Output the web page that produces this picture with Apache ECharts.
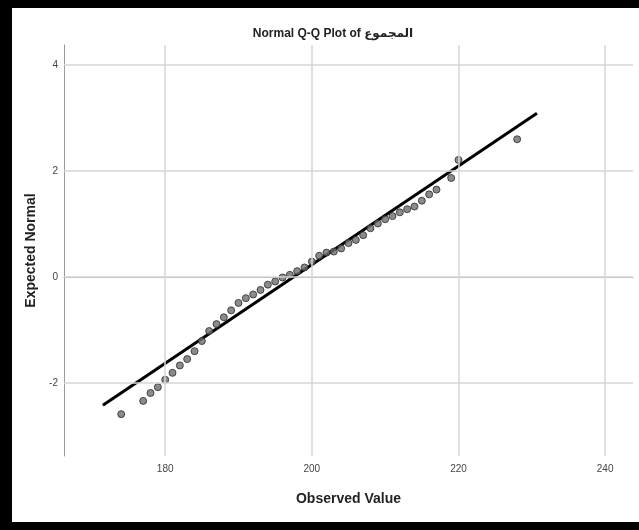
<!DOCTYPE html>
<html>
<head>
<meta charset="utf-8">
<script src="https://cdn.jsdelivr.net/npm/echarts@6/dist/echarts.min.js"></script>
<style>
html,body{margin:0;padding:0;background:#fff;}
#chart{width:639px;height:530px;}
</style>
</head>
<body>
<div id="chart"></div>
<script>
var observed = [174,177,178,179,180,181,182,183,184,185,186,187,188,189,190,191,192,193,194,195,196,197,198,199,200,201,202,203,204,205,206,207,208,209,210,211,212,213,214,215,216,217,219,220,228];
var expectedNormal = [-2.59,-2.34,-2.19,-2.08,-1.94,-1.81,-1.67,-1.55,-1.40,-1.21,-1.02,-0.89,-0.76,-0.63,-0.49,-0.40,-0.33,-0.245,-0.145,-0.085,-0.01,0.04,0.11,0.18,0.29,0.40,0.46,0.48,0.54,0.64,0.70,0.79,0.92,1.01,1.09,1.15,1.22,1.28,1.33,1.44,1.56,1.65,1.87,2.21,2.60];
// Reference normal line parameters
var refMean = 197.5;
var refSD = 10.74;
var refRange = [171.5, 230.7];
// Tick labels
var xTicks = [180, 200, 220, 240];
var yTicks = [-2, 0, 2, 4];
var titleText = 'Normal Q-Q Plot of المجموع';
var xName = 'Observed Value';
var yName = 'Expected Normal';

var pts = observed.map(function(v, i){ return [v, expectedNormal[i]]; });
var refLine = refRange.map(function(x){ return [x, (x - refMean) / refSD]; });

var font = '"Liberation Sans Narrow","Liberation Sans","DejaVu Sans",Arial,sans-serif';
var gridData = xTicks.map(function(v){ return {xAxis: v}; }).concat(yTicks.map(function(v){ return {yAxis: v}; }));

var chart = echarts.init(document.getElementById('chart'), null, {renderer: 'canvas'});
chart.setOption({
  animation: false,
  backgroundColor: '#fff',
  title: {
    text: titleText,
    left: 328, top: 23, textAlign: 'center',
    textStyle: {fontFamily: font, fontSize: 12, fontWeight: 'bold', color: '#222'}
  },
  grid: {left: 64, top: 45, right: 6, bottom: 74, containLabel: false},
  xAxis: {
    type: 'value', min: 166.2, max: 243.8,
    name: xName, nameLocation: 'middle', nameGap: 36,
    nameTextStyle: {fontFamily: font, fontSize: 14, fontWeight: 'bold', color: '#222'},
    axisLine: {show: true, lineStyle: {color: '#999', width: 1}},
    axisTick: {show: false},
    splitLine: {show: false},
    axisLabel: {customValues: xTicks, fontFamily: font, fontSize: 10, color: '#444', margin: 8}
  },
  yAxis: {
    type: 'value', min: -3.38, max: 4.38,
    name: yName, nameLocation: 'middle', nameGap: 22, nameRotate: 90,
    nameTextStyle: {fontFamily: font, fontSize: 14, fontWeight: 'bold', color: '#222'},
    axisLine: {show: true, lineStyle: {color: '#999', width: 1}},
    axisTick: {show: false},
    splitLine: {show: false},
    axisLabel: {customValues: yTicks, fontFamily: font, fontSize: 10, color: '#444', margin: 6}
  },
  graphic: [
    {type: 'rect', shape: {x: 0, y: 0, width: 639, height: 8}, style: {fill: '#000'}, z: 100},
    {type: 'rect', shape: {x: 0, y: 522, width: 639, height: 8}, style: {fill: '#000'}, z: 100},
    {type: 'rect', shape: {x: 0, y: 0, width: 12, height: 530}, style: {fill: '#000'}, z: 100}
  ],
  series: [
    {
      type: 'line', data: [[200, 0]], showSymbol: false, symbol: 'none',
      lineStyle: {opacity: 0}, silent: true, z: 1,
      markLine: {
        silent: true, symbol: 'none', label: {show: false},
        lineStyle: {color: '#d6d6d6', width: 1.5, type: 'solid'},
        data: gridData
      }
    },
    {
      type: 'line', data: refLine, showSymbol: false, symbol: 'none',
      lineStyle: {color: '#000', width: 3}, z: 3, silent: true
    },
    {
      type: 'scatter', data: pts, symbol: 'circle', symbolSize: 7,
      itemStyle: {color: '#6e6e6e', borderColor: '#2a2a2a', borderWidth: 1}, z: 4
    }
  ]
});
</script>
</body>
</html>
